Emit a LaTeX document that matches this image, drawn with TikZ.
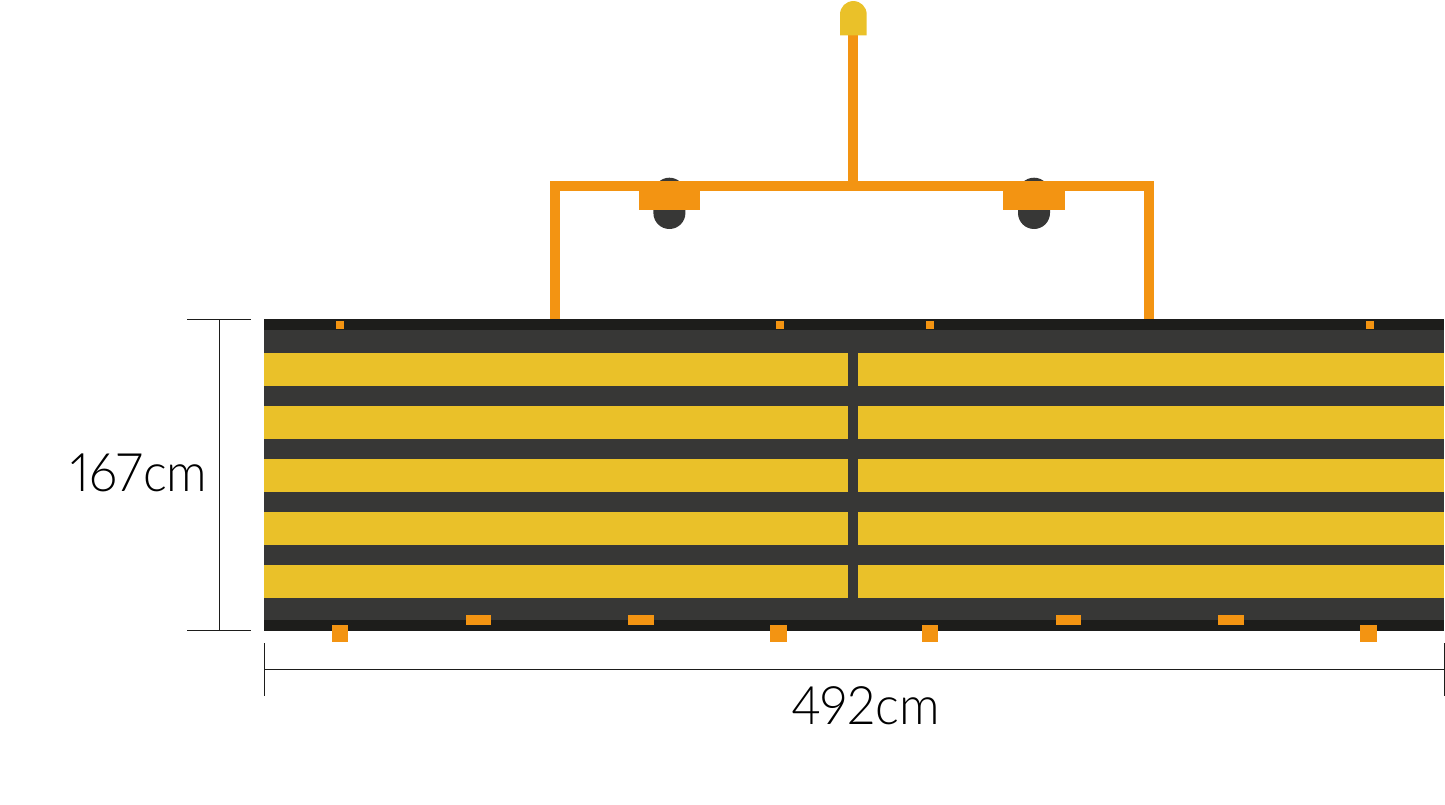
\documentclass[tikz,border=0pt]{standalone}
\usepackage{fontspec}
\setmainfont[Numbers=Proportional,FakeStretch=0.95]{Lato Light}
\definecolor{barDark}{HTML}{373736}
\definecolor{stripDark}{HTML}{1D1D1B}
\definecolor{slatYellow}{HTML}{EAC129}
\definecolor{frameOrange}{HTML}{F39412}
\definecolor{dimLine}{HTML}{1D1D1B}
\tikzset{
  dark/.style={fill=barDark,draw=none},
  strip/.style={fill=stripDark,draw=none},
  slat/.style={fill=slatYellow,draw=none},
  orange/.style={fill=frameOrange,draw=none},
  dimen/.style={draw=dimLine,line width=0.9pt},
  dimtext/.style={font=\fontsize{53}{53}\selectfont,inner sep=0pt,text=black}
}
\begin{document}
\begin{tikzpicture}[x=1pt,y=-1pt]
\useasboundingbox (0,0) rectangle (1445,805);
% panel
\fill[dark] (264,319) rectangle (1444,631);
\fill[strip] (264,319) rectangle (1444,330);
\fill[strip] (264,620) rectangle (1444,631);
\foreach \y in {353.3,406.3,459.3,512.3,565.3}{
  \fill[slat] (264,\y) rectangle (848,\y+33);
  \fill[slat] (858.3,\y) rectangle (1444,\y+33);
}
% small top squares
\foreach \x in {336,776,926,1366}{
  \fill[orange] (\x,320.8) rectangle (\x+8,329);
}
% bottom squares
\foreach \x in {331.6,770,921.6,1360}{
  \fill[orange] (\x,625) rectangle (\x+16.8,641.8);
}
% bottom bars
\foreach \x in {465.8,628.2,1055.8,1218.4}{
  \fill[orange] (\x,615) rectangle (\x+25.4,625.4);
}
% lamps behind the frame
\foreach \x in {669.4,1034}{
  \fill[dark,rounded corners=15.99pt] (\x-16,177.7) rectangle (\x+16,229);
}
\foreach \x in {639,1003.4}{
  \fill[orange] (\x,190) rectangle (\x+61.2,210);
}
% frame
\fill[orange] (550.2,181) rectangle (1154.2,190.8);
\fill[orange] (550.2,181) rectangle (560.2,319);
\fill[orange] (1143.8,181) rectangle (1154.2,319);
\fill[orange] (847.8,35) rectangle (858.3,182);
% top cap
\fill[slat] (840,35.5) -- (840,14.4) arc[start angle=180,end angle=360,radius=13.35] -- (866.7,35.5) -- cycle;
% dimensions
\coordinate (hTopL) at (187,319.5);
\coordinate (hTopR) at (251,319.5);
\coordinate (hBotL) at (187,630.5);
\coordinate (hBotR) at (251,630.5);
\coordinate (vTop) at (219,319.5);
\coordinate (vBot) at (219,630.5);
\coordinate (wLT) at (264,643);
\coordinate (wLB) at (264,696);
\coordinate (wRT) at (1444,643);
\coordinate (wRB) at (1444,696);
\coordinate (wL) at (264,669.5);
\coordinate (wR) at (1444,669.5);
\draw[dimen] (hTopL) -- (hTopR);
\draw[dimen] (hBotL) -- (hBotR);
\draw[dimen] (vTop) -- (vBot);
\draw[dimen] (wLT) -- (wLB);
\draw[dimen] (wRT) -- (wRB);
\draw[dimen] (wL) -- (wR);
\node[dimtext,anchor=base] (hLabel) at (139,491) {167cm};
\node[dimtext,anchor=base] (wLabel) at (865.5,724.5) {492cm};
\end{tikzpicture}
\end{document}
